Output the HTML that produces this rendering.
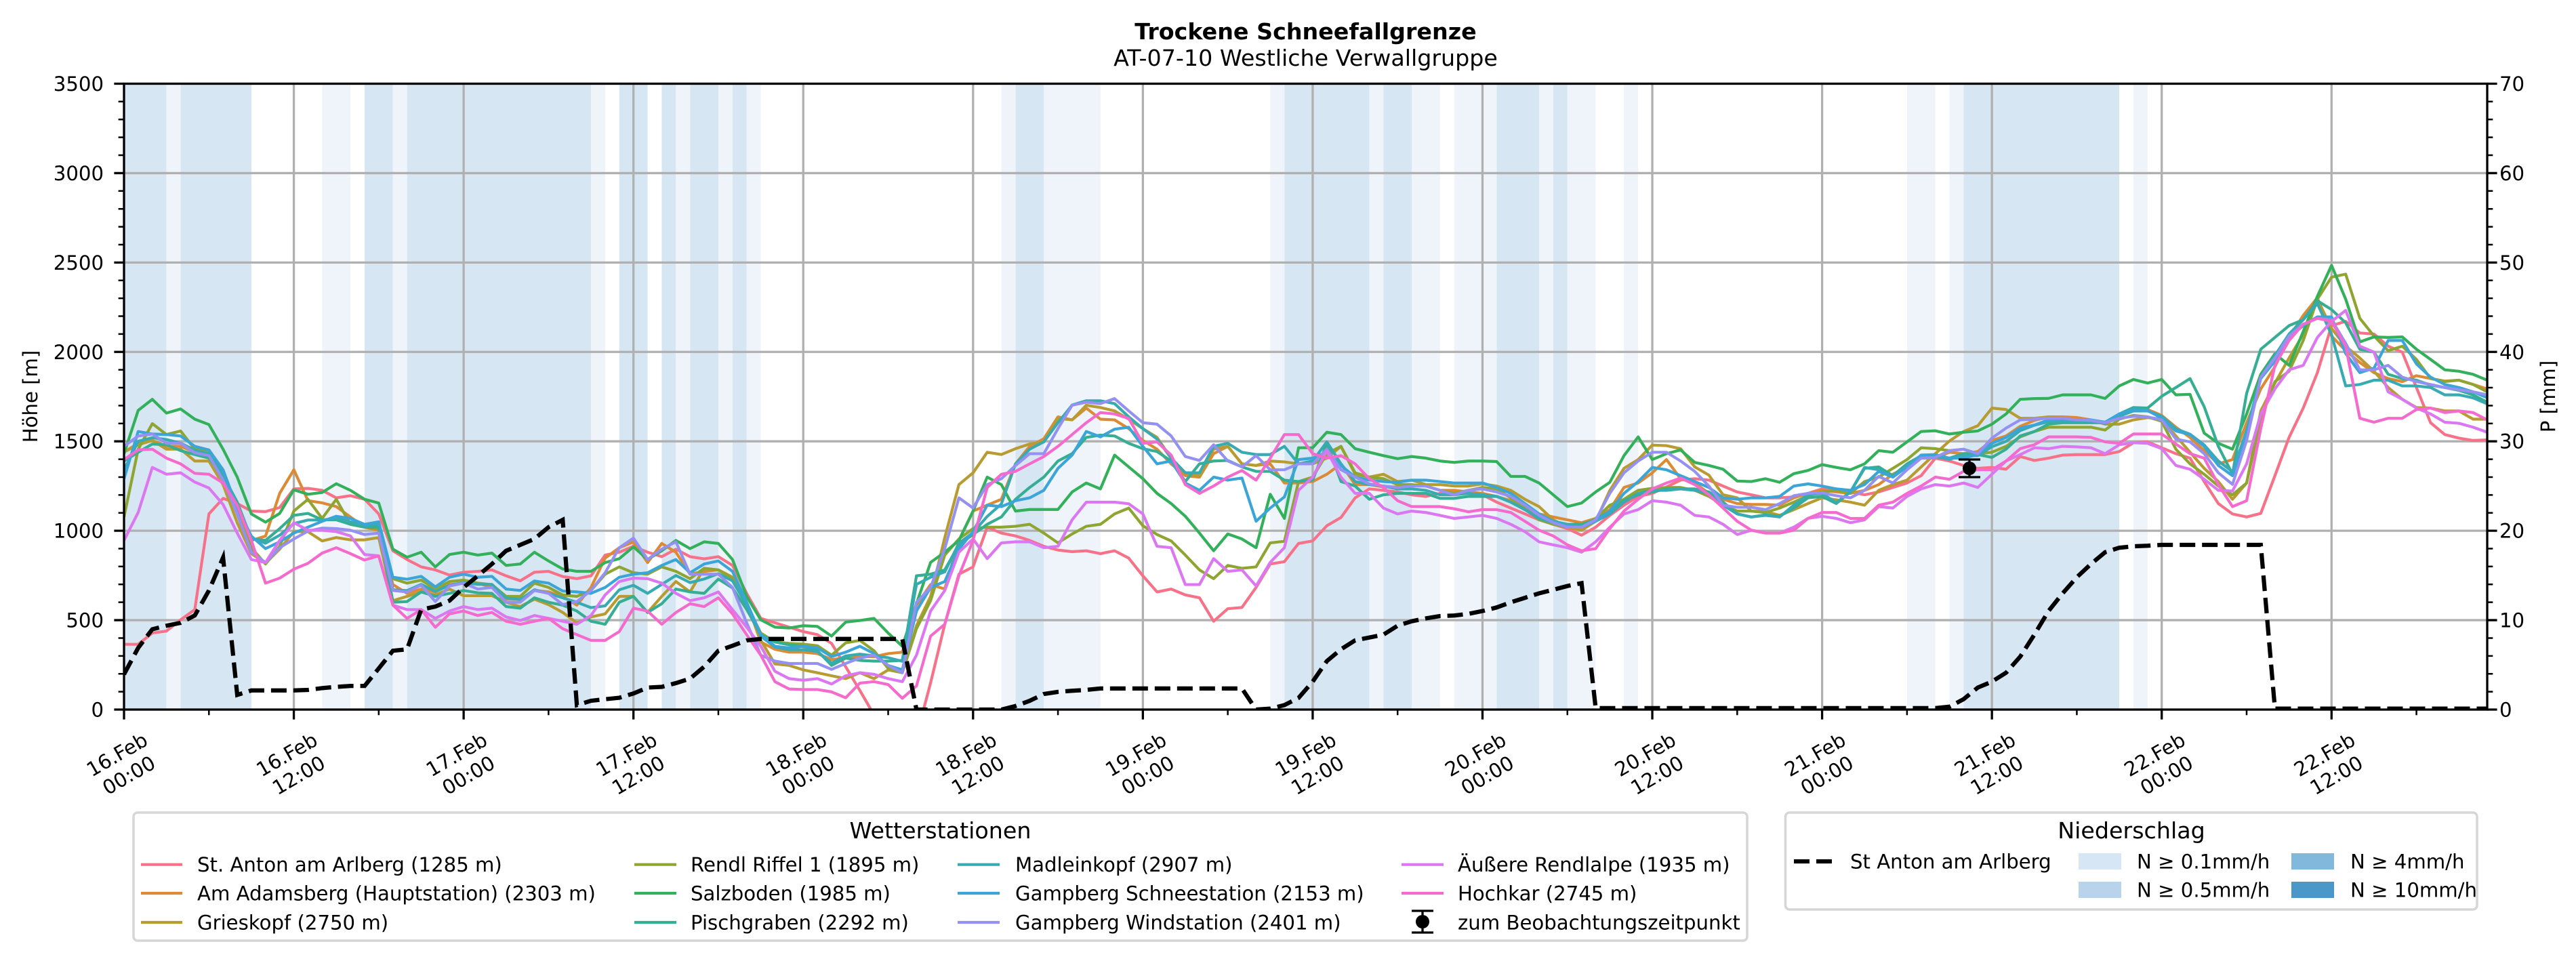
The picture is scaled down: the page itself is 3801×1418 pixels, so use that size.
<!DOCTYPE html>
<html><head><meta charset="utf-8"><title>Trockene Schneefallgrenze</title>
<style>html,body{margin:0;padding:0;background:#fff}svg{display:block}</style></head>
<body>
<svg xmlns="http://www.w3.org/2000/svg" width="3801" height="1418" viewBox="0 0 3801 1418" font-family="'DejaVu Sans','Liberation Sans',sans-serif" fill="#000">
<rect x="0" y="0" width="3801" height="1418" fill="#fff"/>
<text x="1926.5" y="58" text-anchor="middle" font-size="33.3" font-weight="bold">Trockene Schneefallgrenze</text>
<text x="1926.5" y="97" text-anchor="middle" font-size="33.3">AT-07-10 Westliche Verwallgruppe</text>
<defs><clipPath id="c"><rect x="183" y="123.5" width="3487" height="923.5"/></clipPath></defs>
<g clip-path="url(#c)">
<g transform="translate(183,1047) scale(20.88,-0.26386)">
<g fill="#d7e6f3">
<rect x="0" y="0" width="3" height="3500"/><rect x="4" y="0" width="5" height="3500"/><rect x="17" y="0" width="2" height="3500"/><rect x="20" y="0" width="13" height="3500"/><rect x="35" y="0" width="2" height="3500"/><rect x="38" y="0" width="1" height="3500"/><rect x="40" y="0" width="2" height="3500"/><rect x="43" y="0" width="1" height="3500"/><rect x="63" y="0" width="2" height="3500"/><rect x="82" y="0" width="6" height="3500"/><rect x="89" y="0" width="2" height="3500"/><rect x="97" y="0" width="3" height="3500"/><rect x="101" y="0" width="1" height="3500"/><rect x="130" y="0" width="11" height="3500"/>
</g>
<g fill="#eef4fa">
<rect x="3" y="0" width="1" height="3500"/><rect x="14" y="0" width="2" height="3500"/><rect x="19" y="0" width="1" height="3500"/><rect x="33" y="0" width="1" height="3500"/><rect x="39" y="0" width="1" height="3500"/><rect x="42" y="0" width="1" height="3500"/><rect x="44" y="0" width="1" height="3500"/><rect x="62" y="0" width="1" height="3500"/><rect x="65" y="0" width="4" height="3500"/><rect x="81" y="0" width="1" height="3500"/><rect x="88" y="0" width="1" height="3500"/><rect x="91" y="0" width="2" height="3500"/><rect x="94" y="0" width="3" height="3500"/><rect x="100" y="0" width="1" height="3500"/><rect x="102" y="0" width="2" height="3500"/><rect x="106" y="0" width="1" height="3500"/><rect x="126" y="0" width="2" height="3500"/><rect x="129" y="0" width="1" height="3500"/><rect x="142" y="0" width="1" height="3500"/>
</g>
</g>
<g stroke="#b0b0b0" stroke-width="3.3" fill="none">
<path d="M433.56 123.5V1047M684.12 123.5V1047M934.68 123.5V1047M1185.24 123.5V1047M1435.8 123.5V1047M1686.36 123.5V1047M1936.92 123.5V1047M2187.48 123.5V1047M2438.04 123.5V1047M2688.6 123.5V1047M2939.16 123.5V1047M3189.72 123.5V1047M3440.28 123.5V1047"/>
<path d="M183 915.07H3670M183 783.14H3670M183 651.21H3670M183 519.28H3670M183 387.35H3670M183 255.42H3670"/>
</g>
<g transform="translate(183,1047) scale(20.88,-0.26386)" fill="none" stroke-width="4.2" stroke-linejoin="round">
<polyline vector-effect="non-scaling-stroke" stroke="#f77189" points="0,365 1,365 2,428 3,439 4,502 5,559 6,1094 7,1181 8,1152 9,1110 10,1107 11,1130 12,1234 13,1237 14,1226 15,1184 16,1196 17,1176 18,1094 19,888 20,839 21,798 22,781 23,752 24,768 25,773 26,781 27,748 28,720 29,768 30,773 31,744 32,732 33,748 34,864 35,880 36,913 37,880 38,855 39,897 40,855 41,843 42,855 43,806 44,650 45,510 46,485 47,461 48,436 49,419 50,370 51,239 52,107 53,-30 54,-200 55,-200 56,-150 57,150 58,477 59,757 60,798 61,1020 62,987 63,971 64,946 65,913 66,892 67,883 68,888 69,872 70,888 71,847 72,748 73,658 74,674 75,641 76,625 77,494 78,564 79,571 80,683 81,814 82,827 83,929 84,943 85,1028 86,1074 87,1184 88,1234 89,1226 90,1217 91,1201 92,1192 93,1209 94,1217 95,1209 96,1201 97,1160 98,1127 99,1094 100,1061 101,1036 102,1012 103,975 104,1020 105,1086 106,1143 107,1192 108,1209 109,1245 110,1283 111,1291 112,1283 113,1250 114,1217 115,1201 116,1184 117,1184 118,1189 119,1209 120,1234 121,1234 122,1217 123,1201 124,1217 125,1242 126,1267 127,1308 128,1406 129,1390 130,1365 131,1349 132,1354 133,1344 134,1415 135,1393 136,1406 137,1423 138,1426 139,1426 140,1426 141,1443 142,1492 143,1497 144,1464 145,1431 146,1406 147,1275 148,1152 149,1094 150,1077 151,1097 152,1308 153,1522 154,1686 155,1884 156,2147 157,2171 158,2106 159,2100 160,2032 161,1999 162,1801 163,1604 164,1538 165,1518 166,1505 167,1508"/>
<polyline vector-effect="non-scaling-stroke" stroke="#dd8a35" points="0,1440 1,1489 2,1505 3,1472 4,1472 5,1440 6,1440 7,1308 8,1110 9,946 10,970 11,1209 12,1341 13,1168 14,1156 15,1135 16,1077 17,1020 18,1003 19,699 20,650 21,674 22,658 23,699 24,707 25,707 26,683 27,617 28,617 29,666 30,658 31,633 32,584 33,683 34,847 35,905 36,938 37,822 38,929 39,880 40,757 41,773 42,781 43,740 44,600 45,378 46,337 47,321 48,321 49,313 50,280 51,288 52,296 53,296 54,313 55,321 56,584 57,699 58,674 59,946 60,1110 61,1143 62,1176 63,1374 64,1472 65,1514 66,1637 67,1620 68,1686 69,1624 70,1620 71,1571 72,1505 73,1456 74,1374 75,1308 76,1300 77,1431 78,1472 79,1374 80,1365 81,1374 82,1267 83,1267 84,1275 85,1316 86,1374 87,1258 88,1258 89,1245 90,1245 91,1255 92,1250 93,1226 94,1226 95,1217 96,1209 97,1192 98,1168 99,1127 100,1094 101,1077 102,1061 103,1045 104,1069 105,1118 106,1242 107,1267 108,1324 109,1398 110,1291 111,1267 112,1209 113,1176 114,1152 115,1147 116,1147 117,1143 118,1184 119,1209 120,1226 121,1217 122,1209 123,1226 124,1258 125,1316 126,1357 127,1406 128,1406 129,1439 130,1431 131,1443 132,1505 133,1530 134,1584 135,1617 136,1637 137,1637 138,1633 139,1620 140,1604 141,1645 142,1670 143,1678 144,1645 145,1579 146,1522 147,1448 148,1374 149,1398 150,1604 151,1793 152,1917 153,2081 154,2204 155,2303 156,2089 157,2007 158,1941 159,1884 160,1851 161,1834 162,1867 163,1851 164,1837 165,1842 166,1818 167,1793"/>
<polyline vector-effect="non-scaling-stroke" stroke="#b89b31" points="0,1440 1,1481 2,1505 3,1456 4,1456 5,1390 6,1390 7,1258 8,1045 9,872 10,818 11,897 12,995 13,995 14,943 15,962 16,949 17,949 18,962 19,609 20,633 21,658 22,641 23,674 24,637 25,637 26,637 27,600 28,576 29,617 30,587 31,543 32,485 33,518 34,535 35,633 36,633 37,543 38,633 39,716 40,658 41,790 42,781 43,740 44,600 45,387 46,255 47,247 48,222 49,206 50,189 51,173 52,206 53,173 54,222 55,206 56,469 57,633 58,962 59,1258 60,1324 61,1439 62,1426 63,1459 64,1485 65,1497 66,1628 67,1620 68,1702 69,1689 70,1670 71,1624 72,1571 73,1522 74,1406 75,1324 76,1308 77,1456 78,1472 79,1374 80,1365 81,1390 82,1385 83,1374 84,1374 85,1406 86,1472 87,1316 88,1300 89,1316 90,1275 91,1283 92,1258 93,1258 94,1250 95,1250 96,1262 97,1250 98,1226 99,1176 100,1135 101,1061 102,1020 103,1003 104,1053 105,1226 106,1349 107,1398 108,1479 109,1476 110,1459 111,1357 112,1311 113,1201 114,1184 115,1110 116,1107 117,1086 118,1118 119,1152 120,1184 121,1173 122,1160 123,1143 124,1226 125,1258 126,1283 127,1357 128,1431 129,1502 130,1555 131,1587 132,1686 133,1678 134,1629 135,1629 136,1637 137,1624 138,1620 139,1620 140,1596 141,1596 142,1620 143,1633 144,1624 145,1530 146,1439 147,1349 148,1275 149,1176 150,1267 151,1670 152,1826 153,1966 154,2098 155,2295 156,2131 157,2032 158,1966 159,1892 160,1801 161,1735 162,1689 163,1686 164,1670 165,1670 166,1624 167,1624"/>
<polyline vector-effect="non-scaling-stroke" stroke="#8fa531" points="0,1077 1,1456 2,1599 3,1538 4,1558 5,1456 6,1439 7,1316 8,1094 9,905 10,814 11,913 12,1110 13,1176 14,1069 15,1176 16,1036 17,1020 18,1012 19,732 20,707 21,724 22,674 23,716 24,724 25,707 26,699 27,633 28,633 29,707 30,683 31,641 32,633 33,666 34,757 35,798 36,765 37,757 38,798 39,773 40,732 41,790 42,781 43,732 44,584 45,428 46,378 47,370 48,366 49,357 50,304 51,373 52,387 53,329 54,230 55,206 56,452 57,609 58,864 59,954 60,1012 61,1020 62,1020 63,1025 64,1036 65,987 66,932 67,982 68,1025 69,1036 70,1094 71,1127 72,1028 73,979 74,943 75,864 76,781 77,732 78,806 79,790 80,798 81,932 82,941 83,1275 84,1300 85,1431 86,1472 87,1324 88,1300 89,1291 90,1258 91,1258 92,1250 93,1226 94,1209 95,1226 96,1242 97,1234 98,1184 99,1127 100,1061 101,1036 102,1020 103,1028 104,1069 105,1143 106,1176 107,1226 108,1237 109,1242 110,1242 111,1226 112,1192 113,1143 114,1110 115,1110 116,1102 117,1127 118,1160 119,1196 120,1217 121,1226 122,1209 123,1275 124,1300 125,1349 126,1398 127,1464 128,1459 129,1448 130,1456 131,1431 132,1439 133,1472 134,1525 135,1555 136,1579 137,1579 138,1579 139,1579 140,1563 141,1624 142,1645 143,1637 144,1612 145,1456 146,1374 147,1316 148,1250 149,1201 150,1267 151,1629 152,1834 153,1892 154,2064 155,2295 156,2418 157,2435 158,2188 159,2089 160,2007 161,2032 162,1958 163,1851 164,1834 165,1842 166,1818 167,1777"/>
<polyline vector-effect="non-scaling-stroke" stroke="#33b05a" points="0,1431 1,1673 2,1735 3,1658 4,1681 5,1624 6,1594 7,1456 8,1300 9,1094 10,1048 11,1097 12,1229 13,1204 14,1214 15,1263 16,1226 17,1176 18,1155 19,897 20,852 21,880 22,798 23,867 24,880 25,864 26,875 27,806 28,814 29,880 30,831 31,786 32,773 33,773 34,822 35,844 36,910 37,839 38,888 39,946 40,900 41,938 42,929 43,839 44,633 45,502 46,461 47,456 48,469 49,465 50,411 51,489 52,498 53,510 54,428 55,354 56,592 57,823 58,880 59,946 60,1110 61,1300 62,1258 63,1110 64,1119 65,1119 66,1119 67,1217 68,1267 69,1234 70,1423 71,1357 72,1291 73,1209 74,1152 75,1081 76,987 77,888 78,982 79,954 80,905 81,1204 82,1069 83,1464 84,1464 85,1551 86,1538 87,1459 88,1439 89,1420 90,1403 91,1415 92,1406 93,1390 94,1382 95,1390 96,1390 97,1387 98,1304 99,1304 100,1267 101,1201 102,1135 103,1155 104,1217 105,1271 106,1420 107,1525 108,1398 109,1431 110,1452 111,1382 112,1365 113,1344 114,1278 115,1275 116,1291 117,1271 118,1319 119,1337 120,1370 121,1354 122,1341 123,1374 124,1448 125,1439 126,1497 127,1555 128,1559 129,1541 130,1551 131,1558 132,1596 133,1653 134,1735 135,1739 136,1740 137,1760 138,1760 139,1760 140,1740 141,1810 142,1846 143,1826 144,1846 145,1760 146,1763 147,1546 148,1489 149,1456 150,1653 151,1875 152,1990 153,1925 154,2114 155,2311 156,2484 157,2295 158,2056 159,2084 160,2081 161,2084 162,2015 163,1958 164,1900 165,1892 166,1875 167,1842"/>
<polyline vector-effect="non-scaling-stroke" stroke="#35ae93" points="0,1390 1,1439 2,1485 3,1481 4,1448 5,1426 6,1406 7,1308 8,1160 9,954 10,946 11,1012 12,1086 13,1097 14,1061 15,1061 16,1036 17,1020 18,1020 19,600 20,604 21,658 22,633 23,650 24,666 25,653 26,650 27,576 28,567 29,625 30,600 31,584 32,551 33,494 34,477 35,600 36,633 37,543 38,592 39,674 40,658 41,650 42,730 43,680 44,560 45,419 46,378 47,362 48,354 49,329 50,247 51,288 52,275 53,271 54,271 55,275 56,748 57,757 58,781 59,921 60,979 61,1036 62,1077 63,1176 64,1242 65,1300 66,1390 67,1431 68,1522 69,1535 70,1530 71,1489 72,1459 73,1443 74,1390 75,1275 76,1374 77,1390 78,1393 79,1357 80,1332 81,1332 82,1283 83,1275 84,1283 85,1489 86,1275 87,1250 88,1176 89,1201 90,1209 91,1209 92,1209 93,1181 94,1181 95,1192 96,1192 97,1192 98,1160 99,1118 100,1069 101,1053 102,1036 103,1036 104,1061 105,1110 106,1168 107,1201 108,1217 109,1234 110,1234 111,1234 112,1217 113,1160 114,1094 115,1077 116,1089 117,1081 118,1127 119,1184 120,1192 121,1152 122,1217 123,1349 124,1357 125,1308 126,1374 127,1419 128,1423 129,1406 130,1431 131,1426 132,1410 133,1456 134,1530 135,1555 136,1596 137,1604 138,1604 139,1604 140,1604 141,1653 142,1689 143,1686 144,1752 145,1801 146,1851 147,1694 148,1472 149,1316 150,1768 151,2015 152,2081 153,2147 154,2180 155,2286 156,2237 157,2163 158,2015 159,1999 160,1875 161,1851 162,1842 163,1814 164,1801 165,1785 166,1760 167,1719"/>
<polyline vector-effect="non-scaling-stroke" stroke="#37abb1" points="0,1340 1,1500 2,1520 3,1510 4,1490 5,1450 6,1430 7,1320 8,1140 9,960 10,930 11,975 12,1040 13,1060 14,1060 15,1070 16,1050 17,1030 18,1035 19,670 20,665 21,700 22,660 23,695 24,710 25,700 26,700 27,625 28,615 29,670 30,650 31,625 32,600 33,570 34,580 35,670 36,695 37,650 38,700 39,750 40,710 41,730 42,760 43,720 44,585 45,410 46,350 47,335 48,335 49,325 50,260 51,300 52,310 53,300 54,290 55,270 56,700 57,740 58,770 59,930 60,990 61,1080 62,1150 63,1374 64,1456 65,1497 66,1604 67,1703 68,1727 69,1727 70,1711 71,1637 72,1571 73,1513 74,1406 75,1324 76,1324 77,1472 78,1489 79,1439 80,1426 81,1426 82,1472 83,1374 84,1390 85,1497 86,1374 87,1275 88,1258 89,1250 90,1234 91,1234 92,1226 93,1201 94,1201 95,1209 96,1201 97,1192 98,1160 99,1118 100,1069 101,1045 102,1020 103,1020 104,1053 105,1094 106,1160 107,1209 108,1226 109,1226 110,1234 111,1226 112,1209 113,1143 114,1094 115,1077 116,1086 117,1077 118,1143 119,1201 120,1209 121,1157 122,1217 123,1354 124,1341 125,1300 126,1360 127,1410 128,1415 129,1400 130,1420 131,1420 132,1470 133,1500 134,1560 135,1590 136,1610 137,1615 138,1612 139,1612 140,1600 141,1640 142,1670 143,1670 144,1640 145,1570 146,1540 147,1480 148,1390 149,1330 150,1560 151,1860 152,1980 153,2100 154,2180 155,2270 156,2097 157,1810 158,1818 159,1842 160,1842 161,1810 162,1810 163,1801 164,1760 165,1760 166,1743 167,1710"/>
<polyline vector-effect="non-scaling-stroke" stroke="#3ba5d8" points="0,1291 1,1555 2,1541 3,1538 4,1530 5,1472 6,1452 7,1341 8,1127 9,970 10,900 11,938 12,987 13,1020 14,1053 15,1081 16,1069 17,1036 18,1050 19,740 20,729 21,745 22,686 23,740 24,757 25,740 26,745 27,674 28,666 29,719 30,707 31,663 32,658 33,650 34,683 35,740 36,757 37,765 38,806 39,839 40,765 41,814 42,831 43,773 44,600 45,419 46,354 47,345 48,354 49,345 50,296 51,321 52,354 53,313 54,247 55,222 56,551 57,683 58,716 59,897 60,995 61,1143 62,1135 63,1168 64,1184 65,1226 66,1349 67,1423 68,1555 69,1525 70,1568 71,1579 72,1472 73,1374 74,1390 75,1267 76,1226 77,1300 78,1283 79,1295 80,1053 81,1127 82,1189 83,1398 84,1406 85,1439 86,1365 87,1300 88,1283 89,1275 90,1271 91,1283 92,1283 93,1275 94,1267 95,1267 96,1267 97,1242 98,1209 99,1152 100,1094 101,1053 102,1028 103,1020 104,1053 105,1110 106,1209 107,1275 108,1354 109,1341 110,1308 111,1275 112,1242 113,1184 114,1176 115,1184 116,1184 117,1192 118,1250 119,1262 120,1250 121,1234 122,1226 123,1258 124,1332 125,1300 126,1357 127,1423 128,1426 129,1406 130,1406 131,1426 132,1489 133,1522 134,1574 135,1591 136,1620 137,1624 138,1620 139,1620 140,1607 141,1653 142,1678 143,1673 144,1629 145,1558 146,1538 147,1472 148,1365 149,1308 150,1538 151,1851 152,1949 153,2081 154,2147 155,2196 156,2196 157,1991 158,1884 159,1909 160,2064 161,2064 162,1933 163,1859 164,1818 165,1801 166,1777 167,1744"/>
<polyline vector-effect="non-scaling-stroke" stroke="#9491f2" points="0,1472 1,1530 2,1541 3,1489 4,1489 5,1436 6,1420 7,1283 8,1094 9,880 10,822 11,905 12,954 13,998 14,1015 15,1012 16,1003 17,979 18,987 19,666 20,658 21,696 22,604 23,691 24,707 25,674 26,683 27,600 28,600 29,666 30,650 31,587 32,604 33,666 34,765 35,905 36,959 37,839 38,897 39,938 40,757 41,757 42,757 43,683 44,485 45,304 46,271 47,258 48,258 49,258 50,225 51,258 52,288 53,304 54,247 55,206 56,600 57,683 58,900 59,1184 60,1127 61,1258 62,1291 63,1365 64,1431 65,1431 66,1571 67,1702 68,1719 69,1711 70,1739 71,1670 72,1604 73,1596 74,1530 75,1415 76,1393 77,1481 78,1390 79,1357 80,1420 81,1341 82,1341 83,1374 84,1374 85,1456 86,1341 87,1300 88,1262 89,1250 90,1242 91,1250 92,1250 93,1226 94,1201 95,1226 96,1234 97,1217 98,1192 99,1143 100,1086 101,1045 102,1020 103,1020 104,1061 105,1209 106,1324 107,1390 108,1439 109,1439 110,1390 111,1332 112,1250 113,1143 114,1131 115,1131 116,1118 117,1152 118,1196 119,1209 120,1212 121,1196 122,1184 123,1226 124,1304 125,1267 126,1341 127,1406 128,1410 129,1448 130,1456 131,1431 132,1518 133,1574 134,1620 135,1624 136,1629 137,1629 138,1620 139,1617 140,1604 141,1629 142,1640 143,1637 144,1620 145,1513 146,1497 147,1431 148,1324 149,1259 150,1505 151,1859 152,1966 153,2089 154,2155 155,2188 156,2180 157,2048 158,1900 159,1900 160,1925 161,1859 162,1834 163,1818 164,1801 165,1788 166,1777 167,1760"/>
<polyline vector-effect="non-scaling-stroke" stroke="#dc77f2" points="0,946 1,1102 2,1354 3,1316 4,1324 5,1272 6,1239 7,1147 8,987 9,839 10,822 11,946 12,1045 13,1003 14,1003 15,995 16,971 17,867 18,860 19,584 20,559 21,559 22,510 23,551 24,576 25,559 26,567 27,518 28,498 29,526 30,510 31,494 32,477 33,526 34,641 35,716 36,735 37,732 38,707 39,650 40,609 41,625 42,658 43,559 44,461 45,354 46,214 47,173 48,164 49,173 50,143 51,189 52,206 53,197 54,173 55,156 56,304 57,551 58,666 59,880 60,954 61,844 62,932 63,938 64,938 65,905 66,913 67,1061 68,1160 69,1160 70,1160 71,1151 72,1094 73,913 74,905 75,699 76,699 77,844 78,773 79,781 80,691 81,823 82,905 83,1226 84,1300 85,1448 86,1300 87,1209 88,1209 89,1127 90,1094 91,1110 92,1102 93,1086 94,1069 95,1077 96,1086 97,1069 98,1036 99,995 100,938 101,921 102,905 103,880 104,938 105,1020 106,1094 107,1118 108,1168 109,1160 110,1143 111,1086 112,1077 113,1036 114,979 115,1003 116,987 117,987 118,1020 119,1069 120,1081 121,1069 122,1045 123,1061 124,1135 125,1127 126,1192 127,1234 128,1258 129,1250 130,1267 131,1242 132,1316 133,1390 134,1426 135,1464 136,1459 137,1472 138,1469 139,1464 140,1431 141,1481 142,1492 143,1489 144,1459 145,1365 146,1344 147,1288 148,1226 149,1222 150,1374 151,1653 152,1793 153,1900 154,1925 155,2081 156,2171 157,2232 158,2032 159,1999 160,1777 161,1735 162,1686 163,1653 164,1607 165,1601 166,1579 167,1551"/>
<polyline vector-effect="non-scaling-stroke" stroke="#f56bcd" points="0,1398 1,1452 2,1456 3,1406 4,1374 5,1321 6,1316 7,1267 8,1143 9,946 10,707 11,735 12,785 13,818 14,875 15,905 16,872 17,836 18,860 19,584 20,510 21,559 22,460 23,535 24,551 25,526 26,543 27,494 28,477 29,494 30,510 31,452 32,419 33,387 34,387 35,436 36,567 37,551 38,477 39,543 40,592 41,576 42,625 43,535 44,419 45,304 46,156 47,115 48,112 49,112 50,99 51,66 52,148 53,156 54,140 55,63 56,132 57,411 58,477 59,748 60,946 61,1242 62,1316 63,1332 64,1374 65,1415 66,1472 67,1538 68,1604 69,1661 70,1653 71,1628 72,1489 73,1497 74,1423 75,1258 76,1209 77,1250 78,1300 79,1337 80,1283 81,1406 82,1538 83,1538 84,1431 85,1406 86,1420 87,1374 88,1291 89,1242 90,1168 91,1135 92,1135 93,1135 94,1123 95,1106 96,1118 97,1118 98,1102 99,1053 100,1003 101,971 102,921 103,888 104,900 105,1012 106,1110 107,1176 108,1234 109,1267 110,1295 111,1258 112,1201 113,1127 114,1053 115,1003 116,987 117,987 118,1003 119,1069 120,1102 121,1102 122,1069 123,1069 124,1143 125,1160 126,1209 127,1250 128,1300 129,1288 130,1332 131,1341 132,1341 133,1390 134,1459 135,1481 136,1525 137,1525 138,1525 139,1522 140,1497 141,1489 142,1541 143,1541 144,1541 145,1485 146,1431 147,1406 148,1258 149,1135 150,1168 151,1571 152,1925 153,2064 154,2155 155,2188 156,2171 157,2032 158,1629 159,1607 160,1629 161,1629 162,1678 163,1686 164,1661 165,1670 166,1661 167,1620"/>
<polyline vector-effect="non-scaling-stroke" stroke="#000" stroke-width="6.25" stroke-dasharray="23 10" stroke-linejoin="miter" points="0,197 1,345 2,449 3,469 4,485 5,526 6,666 7,850 8,82 9,107 12,107 13,110 14,120 15,127 16,132 17,132 18,230 19,329 20,337 21,559 22,576 23,609 24,683 25,748 26,814 27,888 28,921 29,954 30,1020 31,1061 32,25 33,49 34,58 35,66 36,90 37,123 38,127 39,148 40,173 41,240 42,329 43,357 44,387 45,395 55,395 56,0 62,0 63,20 64,49 65,87 66,99 67,105 68,110 69,118 79,118 80,0 81,5 82,25 83,65 84,156 85,271 86,337 87,387 88,403 89,419 90,469 91,494 92,510 93,523 94,526 95,535 96,551 97,571 98,600 99,625 100,650 101,670 102,691 103,707 104,8 128,8 129,16 130,58 131,123 132,156 133,206 134,296 135,419 136,551 137,650 138,740 139,814 140,880 141,905 142,913 143,916 144,921 151,921 152,5 167,5"/>
</g>
</g>
<!-- observation errorbar -->
<g stroke="#000" stroke-width="3.3">
<path d="M2906 678V704M2890 678H2922M2890 704H2922"/>
</g>
<circle cx="2906" cy="691" r="10" fill="#000"/>
<!-- spines -->
<rect x="183" y="123.5" width="3487" height="923.5" fill="none" stroke="#000" stroke-width="3.3"/>
<!-- ticks -->
<g transform="translate(183,1047) scale(20.88,-0.26386)" fill="none" stroke="#000">
<path vector-effect="non-scaling-stroke" stroke-width="3.3" d="M-0.7 0H0M-0.7 500H0M-0.7 1000H0M-0.7 1500H0M-0.7 2000H0M-0.7 2500H0M-0.7 3000H0M-0.7 3500H0M167 0H167.7M167 500H167.7M167 1000H167.7M167 1500H167.7M167 2000H167.7M167 2500H167.7M167 3000H167.7M167 3500H167.7M0 0V-55.3M12 0V-55.3M24 0V-55.3M36 0V-55.3M48 0V-55.3M60 0V-55.3M72 0V-55.3M84 0V-55.3M96 0V-55.3M108 0V-55.3M120 0V-55.3M132 0V-55.3M144 0V-55.3M156 0V-55.3"/>
<path vector-effect="non-scaling-stroke" stroke-width="2.5" d="M-0.4 100H0M-0.4 200H0M-0.4 300H0M-0.4 400H0M-0.4 600H0M-0.4 700H0M-0.4 800H0M-0.4 900H0M-0.4 1100H0M-0.4 1200H0M-0.4 1300H0M-0.4 1400H0M-0.4 1600H0M-0.4 1700H0M-0.4 1800H0M-0.4 1900H0M-0.4 2100H0M-0.4 2200H0M-0.4 2300H0M-0.4 2400H0M-0.4 2600H0M-0.4 2700H0M-0.4 2800H0M-0.4 2900H0M-0.4 3100H0M-0.4 3200H0M-0.4 3300H0M-0.4 3400H0M167 100H167.4M167 200H167.4M167 300H167.4M167 400H167.4M167 600H167.4M167 700H167.4M167 800H167.4M167 900H167.4M167 1100H167.4M167 1200H167.4M167 1300H167.4M167 1400H167.4M167 1600H167.4M167 1700H167.4M167 1800H167.4M167 1900H167.4M167 2100H167.4M167 2200H167.4M167 2300H167.4M167 2400H167.4M167 2600H167.4M167 2700H167.4M167 2800H167.4M167 2900H167.4M167 3100H167.4M167 3200H167.4M167 3300H167.4M167 3400H167.4M6 0V-31.5M18 0V-31.5M30 0V-31.5M42 0V-31.5M54 0V-31.5M66 0V-31.5M78 0V-31.5M90 0V-31.5M102 0V-31.5M114 0V-31.5M126 0V-31.5M138 0V-31.5M150 0V-31.5M162 0V-31.5"/>
</g>
<!-- y tick labels -->
<g font-size="29.17" text-anchor="end">
<text x="153" y="1057.5">0</text><text x="153" y="925.6">500</text><text x="153" y="793.6">1000</text><text x="153" y="661.7">1500</text><text x="153" y="529.8">2000</text><text x="153" y="397.9">2500</text><text x="153" y="265.9">3000</text><text x="153" y="134">3500</text>
</g>
<g font-size="29.17" text-anchor="start">
<text x="3688" y="1057.5">0</text><text x="3688" y="925.6">10</text><text x="3688" y="793.6">20</text><text x="3688" y="661.7">30</text><text x="3688" y="529.8">40</text><text x="3688" y="397.9">50</text><text x="3688" y="265.9">60</text><text x="3688" y="134">70</text>
</g>
<text transform="translate(55,585) rotate(-90)" text-anchor="middle" font-size="29.17">Höhe [m]</text>
<text transform="translate(3770,585) rotate(-90)" text-anchor="middle" font-size="29.17">P [mm]</text>
<!-- x tick labels -->
<g font-size="29.17" text-anchor="middle">
<g transform="translate(181,1128) rotate(-30)"><text><tspan x="0" y="-6.5">16.Feb</tspan><tspan x="0" y="28.5">00:00</tspan></text></g>
<g transform="translate(431.6,1128) rotate(-30)"><text><tspan x="0" y="-6.5">16.Feb</tspan><tspan x="0" y="28.5">12:00</tspan></text></g>
<g transform="translate(682.1,1128) rotate(-30)"><text><tspan x="0" y="-6.5">17.Feb</tspan><tspan x="0" y="28.5">00:00</tspan></text></g>
<g transform="translate(932.7,1128) rotate(-30)"><text><tspan x="0" y="-6.5">17.Feb</tspan><tspan x="0" y="28.5">12:00</tspan></text></g>
<g transform="translate(1183.2,1128) rotate(-30)"><text><tspan x="0" y="-6.5">18.Feb</tspan><tspan x="0" y="28.5">00:00</tspan></text></g>
<g transform="translate(1433.8,1128) rotate(-30)"><text><tspan x="0" y="-6.5">18.Feb</tspan><tspan x="0" y="28.5">12:00</tspan></text></g>
<g transform="translate(1684.4,1128) rotate(-30)"><text><tspan x="0" y="-6.5">19.Feb</tspan><tspan x="0" y="28.5">00:00</tspan></text></g>
<g transform="translate(1934.9,1128) rotate(-30)"><text><tspan x="0" y="-6.5">19.Feb</tspan><tspan x="0" y="28.5">12:00</tspan></text></g>
<g transform="translate(2185.5,1128) rotate(-30)"><text><tspan x="0" y="-6.5">20.Feb</tspan><tspan x="0" y="28.5">00:00</tspan></text></g>
<g transform="translate(2436,1128) rotate(-30)"><text><tspan x="0" y="-6.5">20.Feb</tspan><tspan x="0" y="28.5">12:00</tspan></text></g>
<g transform="translate(2686.6,1128) rotate(-30)"><text><tspan x="0" y="-6.5">21.Feb</tspan><tspan x="0" y="28.5">00:00</tspan></text></g>
<g transform="translate(2937.2,1128) rotate(-30)"><text><tspan x="0" y="-6.5">21.Feb</tspan><tspan x="0" y="28.5">12:00</tspan></text></g>
<g transform="translate(3187.7,1128) rotate(-30)"><text><tspan x="0" y="-6.5">22.Feb</tspan><tspan x="0" y="28.5">00:00</tspan></text></g>
<g transform="translate(3438.3,1128) rotate(-30)"><text><tspan x="0" y="-6.5">22.Feb</tspan><tspan x="0" y="28.5">12:00</tspan></text></g>
</g>
<!-- left legend -->
<rect x="197" y="1199" width="2381" height="189" rx="6" ry="6" fill="#fff" stroke="#d6d6d6" stroke-width="3.5"/>
<text x="1387.5" y="1237" text-anchor="middle" font-size="33.3">Wetterstationen</text>
<g stroke-width="4.2" fill="none">
<path d="M208 1275.7H269" stroke="#f77189"/>
<path d="M208 1318H269" stroke="#dd8a35"/>
<path d="M208 1361H269" stroke="#b89b31"/>
<path d="M936 1275.7H998" stroke="#8fa531"/>
<path d="M936 1318H998" stroke="#33b05a"/>
<path d="M936 1361H998" stroke="#35ae93"/>
<path d="M1413 1275.7H1475" stroke="#37abb1"/>
<path d="M1413 1318H1475" stroke="#3ba5d8"/>
<path d="M1413 1361H1475" stroke="#9491f2"/>
<path d="M2068 1275.7H2130" stroke="#dc77f2"/>
<path d="M2068 1318H2130" stroke="#f56bcd"/>
</g>
<g stroke="#000" stroke-width="3.3"><path d="M2099 1344V1376M2083 1344H2115M2083 1376H2115"/></g>
<circle cx="2099" cy="1360" r="10" fill="#000"/>
<g font-size="29.17">
<text x="291" y="1286">St. Anton am Arlberg (1285 m)</text>
<text x="291" y="1328.5">Am Adamsberg (Hauptstation) (2303 m)</text>
<text x="291" y="1371.5">Grieskopf (2750 m)</text>
<text x="1019" y="1286">Rendl Riffel 1 (1895 m)</text>
<text x="1019" y="1328.5">Salzboden (1985 m)</text>
<text x="1019" y="1371.5">Pischgraben (2292 m)</text>
<text x="1498" y="1286">Madleinkopf (2907 m)</text>
<text x="1498" y="1328.5">Gampberg Schneestation (2153 m)</text>
<text x="1498" y="1371.5">Gampberg Windstation (2401 m)</text>
<text x="2151" y="1286">Äußere Rendlalpe (1935 m)</text>
<text x="2151" y="1328.5">Hochkar (2745 m)</text>
<text x="2151" y="1371.5">zum Beobachtungszeitpunkt</text>
</g>
<!-- right legend -->
<rect x="2634.5" y="1199" width="1020.5" height="143" rx="6" ry="6" fill="#fff" stroke="#d6d6d6" stroke-width="3.5"/>
<text x="3145" y="1237" text-anchor="middle" font-size="33.3">Niederschlag</text>
<path d="M2647 1271H2704" stroke="#000" stroke-width="6.25" stroke-dasharray="23 10" fill="none"/>
<rect x="3067" y="1259" width="63" height="24" fill="#d6e6f4"/>
<rect x="3067" y="1301" width="63" height="24" fill="#b9d4ea"/>
<rect x="3381" y="1259" width="63" height="24" fill="#81b8dc"/>
<rect x="3381" y="1301" width="63" height="24" fill="#4a98c9"/>
<g font-size="29.17">
<text x="2730" y="1281.5">St Anton am Arlberg</text>
<text x="3153" y="1281.5">N ≥ 0.1mm/h</text>
<text x="3153" y="1323.5">N ≥ 0.5mm/h</text>
<text x="3468" y="1281.5">N ≥ 4mm/h</text>
<text x="3468" y="1323.5">N ≥ 10mm/h</text>
</g>
</svg>
</body></html>
